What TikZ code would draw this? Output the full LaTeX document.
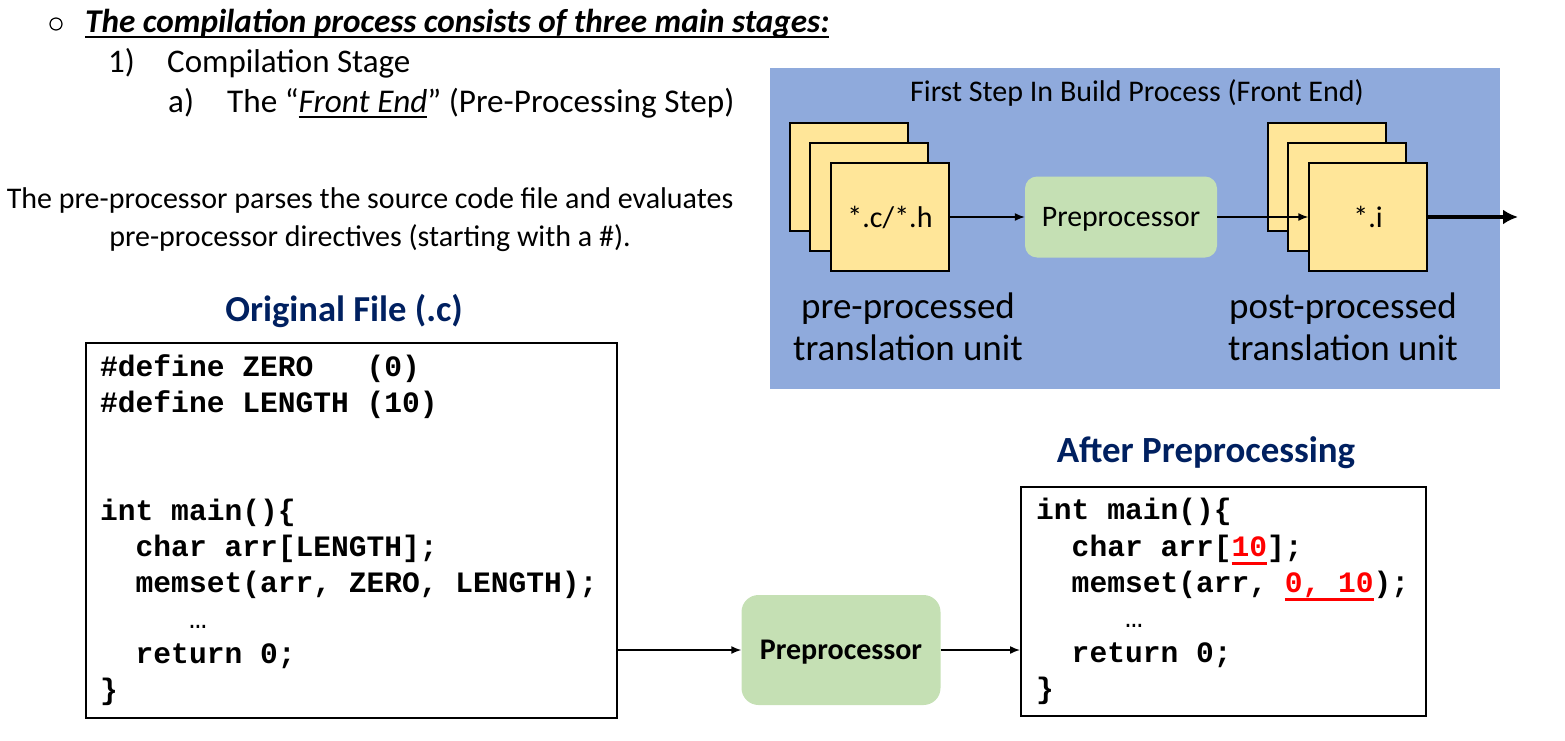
\documentclass[tikz,border=0pt]{standalone}
\usepackage{fontspec}
\setmainfont{Carlito}
\newfontfamily\codefont{Liberation Mono}
\usetikzlibrary{arrows.meta}
\definecolor{panelblue}{HTML}{8FAADC}
\definecolor{pageyellow}{HTML}{FFE699}
\definecolor{procgreen}{HTML}{C5E0B4}
\definecolor{titleblue}{HTML}{002060}
\newcommand{\fsz}[1]{\fontsize{#1pt}{#1pt}\selectfont}
\newcommand{\ulword}[1]{\setbox0\hbox{#1}\rlap{\rule[-0.15em]{\wd0}{0.065em}}\box0}
\newcommand{\redword}[1]{\textcolor{red}{\setbox0\hbox{#1}\rlap{\rule[-9pt]{\wd0}{3pt}}\box0}}
\tikzset{
  txt/.style={inner sep=0pt, anchor=base},
  pagebox/.style={draw, line width=1.4pt, fill=pageyellow, minimum width=118pt,
    minimum height=108pt, inner sep=0pt, text depth=0pt, font=\fsz{30}},
  procbox/.style={fill=procgreen, rounded corners=12pt, inner sep=0pt, text depth=0pt},
  codebox/.style={draw, line width=2pt, inner sep=0pt},
  codeline/.style={anchor=base west, inner sep=0pt, font=\codefont\bfseries\fsz{29.6}},
  arr/.style={line width=1.5pt, -{Latex[length=10pt,width=8pt]}},
  bigarr/.style={line width=4.5pt, -{Latex[length=15pt,width=15pt]}}
}

\begin{document}
\begin{tikzpicture}[x=1pt, y=-1pt]
\useasboundingbox (0,0) rectangle (1565,741);
%% heading
  \node[circle, draw, line width=1.2pt, minimum size=12pt, inner sep=0pt] (bullet) at (56,24) {};
  \node[txt, anchor=base west, font=\bfseries\itshape\fsz{33.2}] (headline) at (85,33)
    {\ulword{The compilation process consists of three main stages:}};
  \node[txt, anchor=base west, font=\fsz{33}] (num1) at (108,73) {1)};
  \node[txt, anchor=base west, font=\fsz{33}] (stage) at (167,73) {Compilation Stage};
  \node[txt, anchor=base west, font=\fsz{33}] (numa) at (168,113) {a)};
  \node[txt, anchor=base west, font=\fsz{33.2}] (frontend) at (227,113)
    {The “\ulword{\textit{Front End}}” (Pre-Processing Step)};
  \node[txt, font=\fsz{30}] (desc1) at (370,208) {The pre-processor parses the source code file and evaluates};
  \node[txt, font=\fsz{30}] (desc2) at (370,246) {pre-processor directives (starting with a \#).};
%% front end panel
  \fill[panelblue] (770,68) rectangle (1500,389);
  \node[txt, font=\fsz{30}] (paneltitle) at (1137,102) {First Step In Build Process (Front End)};
  \node[pagebox] (lback) at (849,177) {};
  \node[pagebox] (lmid) at (869,197) {};
  \node[pagebox] (lfront) at (890,217) {*.c/*.h};
  \node[pagebox] (rback) at (1327,177) {};
  \node[pagebox] (rmid) at (1347,197) {};
  \node[pagebox] (rfront) at (1368,217) {*.i};
  \node[procbox, minimum width=192pt, minimum height=81pt, font=\fsz{29.8}] (prep1) at (1121,217) {Preprocessor};
  \coordinate (outend) at (1518,217);
  \draw[arr] (lfront) -- (prep1);
  \draw[arr] (prep1) -- (rfront);
  \draw[bigarr] (rfront) -- (outend);
  \node[txt, font=\fsz{37}] (prelab1) at (908,318) {pre-processed};
  \node[txt, font=\fsz{37}] (prelab2) at (908,360) {translation unit};
  \node[txt, font=\fsz{37}] (postlab1) at (1343,318) {post-processed};
  \node[txt, font=\fsz{37}] (postlab2) at (1343,360) {translation unit};
%% original file
  \node[txt, font=\bfseries\fsz{36.6}, text=titleblue] (origtitle) at (344,321) {Original File (.c)};
  \node[codebox, minimum width=531pt, minimum height=375pt] (leftfile) at (351.5,530.5) {};
  \node[codeline] (l1) at (100,376) {\#define~ZERO~~~(0)};
  \node[codeline] (l2) at (100,412) {\#define~LENGTH~(10)};
  \node[codeline] (l3) at (100,520) {int~main()\{};
  \node[codeline] (l4) at (100,556) {~~char~arr[LENGTH];};
  \node[codeline] (l5) at (100,592) {~~memset(arr,~ZERO,~LENGTH);};
  \node[codeline] (l6) at (100,628) {~~~~~\mdseries…};
  \node[codeline] (l7) at (100,663) {~~return~0;};
  \node[codeline] (l8) at (100,699) {\}};
%% preprocessor
  \node[procbox, rounded corners=17pt, minimum width=199pt, minimum height=110pt,
    font=\bfseries\fsz{30}] (prep2) at (841,650) {Preprocessor};
%% after preprocessing
  \node[txt, font=\bfseries\fsz{36.9}, text=titleblue] (aftertitle) at (1206,462) {After Preprocessing};
  \node[codebox, minimum width=405pt, minimum height=229pt] (rightfile) at (1223.5,601.5) {};
  \node[codeline] (r1) at (1036,519) {int~main()\{};
  \node[codeline] (r2) at (1036,556) {~~char~arr[\redword{10}];};
  \node[codeline] (r3) at (1036,592) {~~memset(arr,~\redword{0,~10});};
  \node[codeline] (r4) at (1036,627) {~~~~~\mdseries…};
  \node[codeline] (r5) at (1036,662) {~~return~0;};
  \node[codeline] (r6) at (1036,698) {\}};
  \draw[arr] (prep2.west -| leftfile.east) -- (prep2.west);
  \draw[arr] (prep2.east) -- (prep2.east -| rightfile.west);
\end{tikzpicture}
\end{document}
